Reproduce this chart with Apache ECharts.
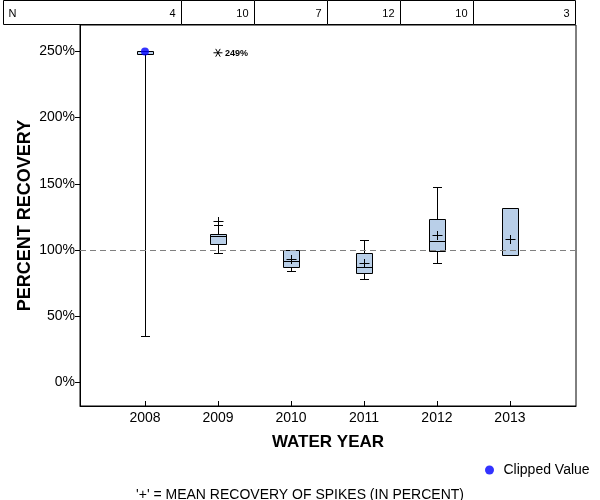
<!DOCTYPE html>
<html>
<head>
<meta charset="utf-8">
<script src="https://cdn.jsdelivr.net/npm/echarts@6/dist/echarts.min.js"></script>
<style>html,body{margin:0;padding:0;background:#fff;}#c{width:600px;height:500px;}</style>
</head>
<body>
<div id="c"></div>
<script>
// ---- data ----
const years = [2008, 2009, 2010, 2011, 2012, 2013];
const nCounts = [4, 10, 7, 12, 10, 3];
const whiskerLow = [34.7, 97.4, 83.8, 78.3, 89.9, null];
const q1 = [248, 104.8, 87.4, 82.9, 98.9, 96.4];
const median = [null, 110.3, 91.9, 87.4, 107, null];
const q3 = [250, 111.8, 100.2, 98, 123.6, 131.9];
const whiskerHigh = [null, 118.6, null, 107.8, 147.3, null];
const means = [null, 122, 93.1, 90.4, 111.5, 108];
const clippedYears = [2008];
const clippedValues = [250];
const outlierYears = [2009];
const outlierValues = [249];
const outlierLabels = ['249%'];
const yTicks = [0, 50, 100, 150, 200, 250];
const refValue = 100;

const X_MIN = 2007.11, X_MAX = 2013.905, Y_MIN = -18, Y_MAX = 270;
const FONT = 'Liberation Sans, Arial, sans-serif';
const crisp = v => Math.round(v) + 0.5;

const chart = echarts.init(document.getElementById('c'), null, {renderer: 'canvas'});

const option = {
  animation: false,
  backgroundColor: '#fff',
  textStyle: {fontFamily: FONT, color: '#000'},
  title: {
    text: "'+' = MEAN RECOVERY OF SPIKES (IN PERCENT)",
    left: 'center', top: 483,
    textStyle: {fontFamily: FONT, fontSize: 14, fontWeight: 'normal', color: '#000'}
  },
  legend: {
    data: ['Clipped Value'],
    left: 480, top: 458,
    icon: 'circle', itemWidth: 18, itemHeight: 9, itemGap: 5,
    textStyle: {fontFamily: FONT, fontSize: 14, color: '#000'}
  },
  grid: {left: 80, right: 24, top: 25, bottom: 94, show: true, borderColor: '#000', borderWidth: 1, backgroundColor: 'transparent'},
  xAxis: {
    type: 'value', min: X_MIN, max: X_MAX,
    name: 'WATER YEAR', nameLocation: 'middle', nameGap: 28, nameMoveOverlap: false,
    nameTextStyle: {fontFamily: FONT, fontSize: 17, fontWeight: 'bold', color: '#000'},
    axisLine: {show: true, onZero: false, lineStyle: {color: '#000', width: 1}},
    axisTick: {show: true, inside: true, length: 5, customValues: years, lineStyle: {color: '#000'}},
    axisLabel: {customValues: years, formatter: v => String(v), fontFamily: FONT, fontSize: 14, color: '#000', margin: 5},
    splitLine: {show: false}
  },
  yAxis: {
    type: 'value', min: Y_MIN, max: Y_MAX,
    name: 'PERCENT RECOVERY', nameLocation: 'middle', nameGap: 46, nameRotate: 90, nameMoveOverlap: false,
    nameTextStyle: {fontFamily: FONT, fontSize: 18, fontWeight: 'bold', color: '#000'},
    axisLine: {show: true, onZero: false, lineStyle: {color: '#000', width: 1}},
    axisTick: {show: true, length: 5, customValues: yTicks, lineStyle: {color: '#000'}},
    axisLabel: {customValues: yTicks, formatter: v => v + '%', fontFamily: FONT, fontSize: 14, color: '#000', margin: 5},
    splitLine: {show: false}
  },
  series: [
    {
      name: 'ref', type: 'line', data: [], z: 1,
      markLine: {
        silent: true, symbol: 'none', label: {show: false},
        lineStyle: {type: [6, 4], color: '#808080', width: 1.2},
        data: [{yAxis: refValue}]
      }
    },
    {
      name: 'box', type: 'custom', z: 3,
      data: years.map((y, i) => [y, q1[i], q3[i]]),
      encode: {x: 0, y: [1, 2]},
      renderItem: function (params, api) {
        const i = params.dataIndex;
        const x = crisp(api.coord([years[i], 0])[0]);
        const yOf = v => crisp(api.coord([years[i], v])[1]);
        const hw = 7.5, cw = 4.5;
        const st = {stroke: '#000', lineWidth: 1, fill: null};
        const ch = [];
        const top = yOf(q3[i]), bot = yOf(q1[i]);
        if (whiskerLow[i] != null) {
          const yl = yOf(whiskerLow[i]);
          ch.push({type: 'line', shape: {x1: x, y1: bot, x2: x, y2: yl}, style: st});
          ch.push({type: 'line', shape: {x1: x - cw, y1: yl, x2: x + cw, y2: yl}, style: st});
        }
        if (whiskerHigh[i] != null) {
          const yh = yOf(whiskerHigh[i]);
          ch.push({type: 'line', shape: {x1: x, y1: top, x2: x, y2: yh}, style: st});
          ch.push({type: 'line', shape: {x1: x - cw, y1: yh, x2: x + cw, y2: yh}, style: st});
        }
        ch.push({type: 'rect', shape: {x: x - hw - 0.5, y: top, width: 2 * hw + 1, height: bot - top},
                 style: {fill: '#b9cfe8', stroke: '#000', lineWidth: 1}});
        if (median[i] != null) {
          const ym = yOf(median[i]);
          ch.push({type: 'line', shape: {x1: x - hw - 0.5, y1: ym, x2: x + hw + 0.5, y2: ym}, style: st});
        }
        return {type: 'group', children: ch};
      }
    },
    {
      name: 'mean', type: 'custom', z: 4,
      data: years.map((y, i) => [y, means[i]]).filter(d => d[1] != null),
      encode: {x: 0, y: 1},
      renderItem: function (params, api) {
        const p = api.coord([api.value(0), api.value(1)]);
        const x = crisp(p[0]), y = crisp(p[1]);
        const st = {stroke: '#000', lineWidth: 1};
        return {type: 'group', children: [
          {type: 'line', shape: {x1: x - 5, y1: y, x2: x + 5, y2: y}, style: st},
          {type: 'line', shape: {x1: x, y1: y - 4.5, x2: x, y2: y + 4.5}, style: st}
        ]};
      }
    },
    {
      name: 'outlier', type: 'custom', z: 4, clip: false,
      data: outlierYears.map((y, i) => [y, outlierValues[i]]),
      encode: {x: 0, y: 1},
      renderItem: function (params, api) {
        const p = api.coord([api.value(0), api.value(1)]);
        const x = p[0], y = p[1], r = 4.5;
        const st = {stroke: '#000', lineWidth: 1};
        const c = Math.cos(Math.PI / 6) * r, s = Math.sin(Math.PI / 6) * r;
        return {type: 'group', children: [
          {type: 'line', shape: {x1: x - r, y1: y, x2: x + r, y2: y}, style: st},
          {type: 'line', shape: {x1: x - s, y1: y - c, x2: x + s, y2: y + c}, style: st},
          {type: 'line', shape: {x1: x + s, y1: y - c, x2: x - s, y2: y + c}, style: st},
          {type: 'text', style: {x: x + 7, y: y + 1, text: outlierLabels[params.dataIndex], fontFamily: FONT,
            fontSize: 9, fontWeight: 'bold', fill: '#000', verticalAlign: 'middle', align: 'left'}}
        ]};
      }
    },
    {
      name: 'Clipped Value', type: 'scatter', z: 5,
      symbol: 'circle', symbolSize: 8,
      itemStyle: {color: '#0000ff'},
      data: clippedYears.map((y, i) => [y, clippedValues[i]])
    },
    {
      name: 'table', type: 'custom', z: 6, clip: false, silent: true,
      data: years.map((y, i) => [y, nCounts[i]]),
      encode: {x: 0},
      renderItem: function (params, api) {
        const i = params.dataIndex;
        const gridTop = crisp(api.coord([X_MIN, Y_MAX])[1]) - 1;
        const tableTop = 0.5;
        const left = i === 0 ? 3.5 : crisp(api.coord([years[i] - 0.5, Y_MAX])[0]);
        const right = i === years.length - 1 ? crisp(api.coord([X_MAX, Y_MAX])[0]) - 1 : crisp(api.coord([years[i] + 0.5, Y_MAX])[0]);
        const midY = (tableTop + gridTop) / 2 + 1;
        const ch = [
          {type: 'rect', shape: {x: left, y: tableTop, width: right - left, height: gridTop - tableTop},
           style: {fill: '#fff', stroke: '#000', lineWidth: 1}},
          {type: 'text', style: {x: right - 6, y: midY, text: String(nCounts[i]), fontFamily: FONT, fontSize: 11,
            fill: '#000', align: 'right', verticalAlign: 'middle'}}
        ];
        if (i === 0) {
          ch.push({type: 'text', style: {x: left + 5, y: midY, text: 'N', fontFamily: FONT, fontSize: 11,
            fill: '#000', align: 'left', verticalAlign: 'middle'}});
        }
        return {type: 'group', children: ch};
      }
    }
  ]
};
chart.setOption(option);
</script>
</body>
</html>
